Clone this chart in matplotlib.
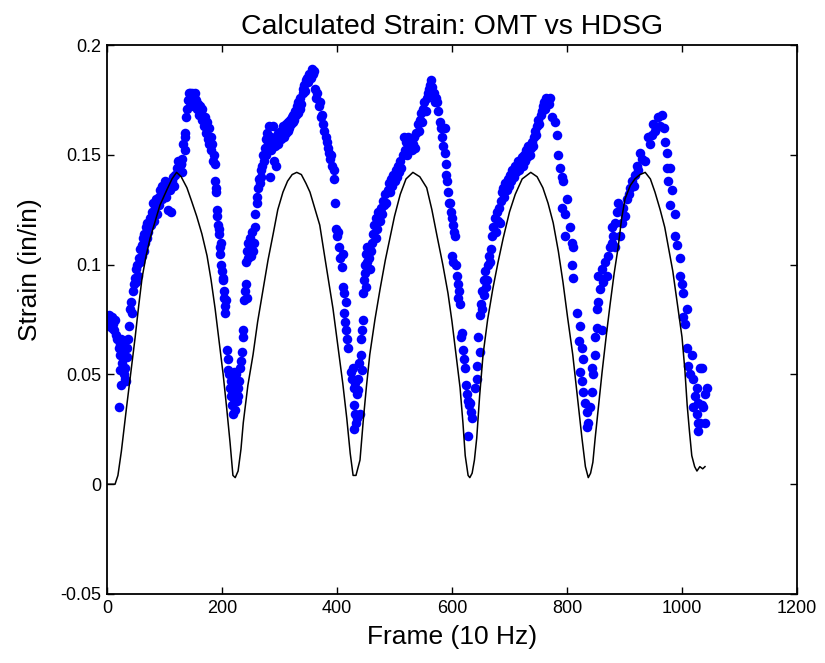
import matplotlib
matplotlib.use("Agg")
import matplotlib.pyplot as plt

# ---------------- DATA ----------------
title = "Calculated Strain: OMT vs HDSG"
xlabel = "Frame (10 Hz)"
ylabel = "Strain (in/in)"
xticks = [0, 200, 400, 600, 800, 1000, 1200]
xtick_labels = ["0", "200", "400", "600", "800", "1000", "1200"]
yticks = [-0.05, 0, 0.05, 0.1, 0.15, 0.2]
ytick_labels = ["-0.05", "0", "0.05", "0.1", "0.15", "0.2"]

# HDSG (black line)
hdsg_frame = [0, 8, 14, 19, 25, 34, 42, 49, 55, 61,
              68, 75, 83, 92, 104, 113, 121, 129, 139, 147,
              156, 165, 174, 181, 188, 195, 202, 208, 214, 219,
              223, 228, 233, 237, 245, 254, 262, 271, 280, 289,
              297, 306, 314, 322, 330, 338, 346, 353, 361, 370,
              379, 387, 393, 400, 410, 417, 423, 428, 433, 440,
              446, 451, 457, 466, 475, 484, 492, 500, 510, 520,
              532, 544, 556, 565, 574, 584, 593, 600, 607, 614,
              619, 623, 628, 631, 635, 639, 643, 648, 654, 662,
              671, 680, 689, 700, 710, 722, 737, 748, 758, 767,
              776, 785, 793, 801, 810, 818, 826, 832, 837, 841,
              845, 849, 855, 861, 868, 875, 882, 889, 895, 901,
              910, 918, 927, 936, 945, 953, 962, 970, 977, 984,
              992, 1000, 1005, 1009, 1013, 1017, 1022, 1026, 1031, 1036,
              1040]
hdsg_strain = [.000, .000, .000, .004, .015, .035, .052, .067, .081, .094,
               .104, .112, .119, .127, .134, .139, .142, .140, .135, .129,
               .122, .114, .104, .093, .080, .065, .050, .035, .019, .004,
               .003, .006, .016, .028, .045, .059, .074, .088, .102, .114,
               .125, .133, .138, .141, .142, .141, .137, .133, .126, .118,
               .103, .090, .080, .066, .046, .030, .014, .004, .004, .011,
               .030, .044, .059, .075, .089, .102, .112, .122, .132, .139,
               .142, .140, .135, .125, .113, .100, .087, .074, .059, .044,
               .028, .013, .004, .003, .005, .011, .021, .040, .059, .075,
               .089, .101, .112, .124, .132, .139, .142, .140, .135, .128,
               .119, .106, .092, .076, .059, .040, .021, .008, .003, .005,
               .010, .021, .036, .051, .067, .082, .096, .108, .121, .130,
               .136, .139, .141, .142, .139, .133, .125, .117, .107, .097,
               .082, .067, .052, .036, .024, .013, .008, .006, .008, .007,
               .008]

# OMT (blue dots), by segment
omt_frame_1 = [1, 3, 4, 6, 8, 9, 11, 13, 14, 16,
               18, 20, 22, 23, 25, 26, 27, 28, 29, 30,
               31, 32, 33, 34, 22, 24, 21, 35, 36]
omt_strain_1 = [.075, .072, .077, .074, .071, .076, .073, .070, .075, .068,
                .066, .062, .064, .059, .066, .055, .052, .061, .050, .065,
                .053, .048, .047, .062, .052, .045, .035, .058, .066]

omt_frame_2 = [38, 40, 42, 44, 45, 47, 48, 50, 51, 53,
               54, 55, 57, 58, 60, 61, 62, 64, 65, 66,
               68, 69, 70, 72, 74, 76, 78, 79, 80, 82,
               84, 85, 87, 88, 90, 91, 93, 95, 96, 98,
               100, 101, 103, 105, 106, 108, 110, 111, 113, 115,
               117, 119, 121, 123, 124, 126, 128, 130]
omt_strain_2 = [.072, .080, .083, .078, .088, .091, .094, .092, .098, .100,
                .095, .103, .101, .107, .104, .109, .112, .106, .114, .110,
                .117, .112, .119, .115, .121, .118, .124, .122, .128, .120,
                .126, .130, .123, .128, .131, .127, .134, .130, .136, .132,
                .135, .138, .131, .136, .125, .137, .134, .124, .138, .140,
                .136, .141, .144, .142, .147, .143, .146, .142]

omt_frame_3 = [133, 135, 136, 138, 139, 140, 142, 144, 145, 147,
               148, 150, 151, 153, 155, 156, 158, 160, 161, 163,
               165, 166, 168, 170, 172, 174, 175, 177, 178, 180,
               181, 183, 184, 136, 128, 131]
omt_strain_3 = [.155, .160, .152, .167, .171, .175, .178, .174, .178, .176,
                .178, .172, .177, .178, .175, .171, .173, .168, .172, .170,
                .166, .171, .163, .167, .160, .165, .157, .162, .155, .158,
                .152, .155, .147, .158, .146, .148]

omt_frame_4 = [186, 187, 188, 189, 190, 191, 192, 193, 194, 195,
               196, 197, 198, 199, 200, 201, 202, 203, 204, 205,
               206, 207]
omt_strain_4 = [.150, .146, .138, .133, .135, .125, .122, .118, .114, .116,
                .108, .105, .110, .100, .097, .093, .094, .088, .085, .081,
                .078, .084]

omt_frame_5 = [209, 210, 211, 212, 214, 215, 216, 217, 218, 219,
               220, 221, 222, 223, 224, 225, 226, 227, 228, 229,
               231, 233, 235, 236, 237]
omt_strain_5 = [.061, .057, .052, .050, .044, .047, .040, .043, .036, .032,
                .051, .039, .046, .034, .042, .050, .038, .044, .040, .047,
                .053, .056, .060, .067, .070]

omt_frame_6 = [238, 240, 241, 243, 242, 244, 245, 246, 248, 249,
               250, 251, 253, 254, 256, 257, 258, 260, 261, 263,
               264, 266, 267, 268, 270, 271, 273, 274, 276, 277,
               279, 280, 282, 283, 285, 286, 288, 289, 291, 292,
               294, 295, 297, 298]
omt_strain_6 = [.084, .088, .091, .085, .101, .106, .110, .103, .107, .112,
                .104, .109, .115, .106, .110, .117, .123, .128, .131, .135,
                .139, .137, .143, .140, .145, .150, .147, .153, .150, .157,
                .160, .155, .163, .140, .152, .158, .163, .157, .147, .154,
                .145, .158, .155, .160]

omt_frame_7 = [300, 302, 303, 305, 306, 308, 309, 311, 312, 314,
               315, 317, 318, 320, 321, 323, 324, 326, 327, 329,
               330, 332, 333, 335, 336, 338, 340, 341, 343, 344,
               346, 348, 350, 352, 354, 356, 358, 360]
omt_strain_7 = [.159, .161, .157, .160, .163, .158, .162, .160, .164, .161,
                .165, .162, .166, .164, .167, .165, .168, .166, .170, .168,
                .172, .169, .174, .171, .176, .173, .178, .180, .182, .179,
                .184, .185, .183, .187, .185, .189, .187, .188]

omt_frame_8 = [362, 364, 366, 368, 370, 372, 374, 376, 378, 380,
               382, 384, 386, 388, 390, 392, 394, 395, 397, 398,
               400, 402, 404, 406, 408, 410, 411, 413, 415, 412,
               414, 416, 418, 419, 424, 426, 428, 430, 432, 434,
               436, 429, 431, 433, 435, 430]
omt_strain_8 = [.180, .176, .178, .172, .174, .167, .168, .164, .161, .158,
                .156, .153, .151, .148, .150, .145, .143, .139, .128, .116,
                .113, .115, .108, .103, .099, .105, .090, .087, .083, .078,
                .074, .070, .066, .062, .051, .048, .053, .044, .046, .041,
                .043, .036, .032, .028, .030, .025]

omt_frame_9 = [437, 439, 440, 441, 442, 443, 444, 445, 446, 447,
               448, 449, 450, 451, 452, 453, 455, 457, 459, 461,
               463, 465, 467, 468, 470, 472, 474, 476, 478, 480,
               482, 484, 486, 488, 490, 492, 494, 496, 498, 500,
               502, 504, 506, 508, 510, 512, 514, 516, 518, 520,
               522, 524, 526, 528, 530, 532, 534, 536]
omt_strain_9 = [.048, .055, .032, .059, .066, .052, .070, .075, .087, .093,
                .100, .096, .105, .090, .101, .108, .103, .098, .106, .110,
                .114, .118, .112, .121, .116, .124, .120, .126, .123, .129,
                .127, .132, .128, .134, .137, .133, .139, .136, .141, .138,
                .143, .140, .145, .142, .147, .144, .150, .158, .152, .156,
                .150, .158, .154, .157, .152, .155, .158, .153]

omt_frame_10 = [538, 540, 542, 544, 546, 548, 550, 552, 554, 556,
                558, 560, 562, 564, 566]
omt_strain_10 = [.160, .164, .161, .166, .169, .165, .171, .174, .170, .176,
                 .178, .180, .182, .184, .181]

omt_frame_11 = [568, 570, 572, 574, 576, 579, 581, 583, 585, 587,
                588, 589, 590, 591, 593, 595, 597, 598, 600, 602,
                603, 605, 600, 602, 607, 609, 610, 611, 612, 614,
                615, 617, 619, 621, 623, 624, 626, 628, 630, 631,
                633, 635, 628, 640, 643, 643, 645, 649]
omt_strain_11 = [.178, .174, .176, .174, .170, .165, .162, .158, .154, .151,
                 .162, .146, .141, .138, .133, .128, .128, .124, .121, .118,
                 .115, .113, .104, .101, .100, .095, .091, .085, .088, .082,
                 .067, .069, .061, .057, .053, .045, .041, .038, .036, .037,
                 .033, .030, .022, .044, .048, .054, .067, .060]

omt_frame_12 = [649, 650, 652, 653, 655, 656, 658, 659, 661, 663,
                665, 666, 668, 670, 672, 674, 676, 678, 680, 682,
                683, 685, 687, 689, 691, 693, 695, 697, 699, 701,
                703, 705, 707, 709, 711, 713, 715, 717, 719, 721,
                723, 725, 727, 729, 731, 733, 735, 737, 739, 741]
omt_strain_12 = [.077, .082, .088, .080, .093, .086, .097, .090, .093, .100,
                 .104, .101, .107, .113, .117, .121, .115, .124, .120, .126,
                 .119, .129, .133, .135, .131, .137, .134, .139, .136, .141,
                 .138, .143, .140, .145, .142, .144, .147, .143, .146, .149,
                 .145, .150, .147, .152, .149, .154, .150, .153, .156, .154]

omt_frame_13 = [742, 744, 746, 748, 750, 752, 754, 756, 758, 760,
                762, 764, 766, 768]
omt_strain_13 = [.158, .161, .159, .163, .166, .164, .168, .170, .172, .174,
                 .171, .176, .175, .173]

omt_frame_14 = [770, 774, 779, 782, 785, 788, 791, 793, 800, 791,
                797, 805, 797, 809, 811, 809, 811, 817, 823, 820,
                826, 828, 823, 826, 828, 831, 835, 837, 835, 843,
                840, 846, 843, 849, 849, 852, 861]
omt_strain_14 = [.176, .167, .165, .159, .150, .144, .140, .138, .130, .126,
                 .123, .117, .113, .110, .108, .100, .094, .078, .072, .065,
                 .062, .057, .051, .047, .042, .037, .033, .028, .026, .042,
                 .035, .050, .053, .059, .067, .071, .070]

omt_frame_15 = [852, 854, 857, 863, 854, 861, 870, 866, 871, 875,
                878, 880, 878, 883, 887, 889, 883, 892, 896, 897,
                904, 910, 913, 918, 922, 927, 936, 941, 948, 950,
                958, 965, 900, 907, 916, 924, 931, 945, 953, 961]
omt_strain_15 = [.080, .083, .089, .092, .095, .098, .095, .101, .104, .108,
                 .110, .113, .117, .119, .124, .128, .108, .113, .119, .126,
                 .130, .135, .138, .141, .145, .151, .147, .158, .159, .164,
                 .167, .168, .122, .132, .136, .143, .148, .155, .161, .163]

omt_frame_16 = [968, 970, 974, 974, 979, 976, 983, 979, 988, 988,
                991, 997, 997, 1000, 1002, 1009, 1002, 1005, 1009, 1017,
                1010, 1031, 1019, 1026, 1028, 1019, 1026, 1028, 1035, 1035,
                1043, 1040, 1037, 1040, 1028, 1031, 1014, 1022]
omt_strain_16 = [.162, .156, .151, .144, .144, .138, .134, .127, .123, .113,
                 .109, .103, .095, .091, .087, .080, .076, .073, .062, .059,
                 .054, .053, .048, .044, .037, .035, .032, .028, .036, .053,
                 .044, .041, .035, .028, .024, .028, .050, .040]

omt_frames = (omt_frame_1 + omt_frame_2 + omt_frame_3 + omt_frame_4 + omt_frame_5 +
              omt_frame_6 + omt_frame_7 + omt_frame_8 + omt_frame_9 + omt_frame_10 +
              omt_frame_11 + omt_frame_12 + omt_frame_13 + omt_frame_14 + omt_frame_15 +
              omt_frame_16)
omt_strains = (omt_strain_1 + omt_strain_2 + omt_strain_3 + omt_strain_4 + omt_strain_5 +
               omt_strain_6 + omt_strain_7 + omt_strain_8 + omt_strain_9 + omt_strain_10 +
               omt_strain_11 + omt_strain_12 + omt_strain_13 + omt_strain_14 + omt_strain_15 +
               omt_strain_16)
n = min(len(omt_frames), len(omt_strains))

# ---------------- PLOT ----------------
plt.rcParams['font.family'] = ['Liberation Sans', 'DejaVu Sans']

fig = plt.figure(figsize=(8.25, 6.63), dpi=100)
ax = fig.add_axes([107 / 825, 69 / 663, 690 / 825, 549 / 663])

ax.plot(omt_frames[:n], omt_strains[:n], 'o', color=(0, 0, 1), markersize=6.9,
        markeredgewidth=0, zorder=2)
ax.plot(hdsg_frame, hdsg_strain, '-', color='black', linewidth=1.1, zorder=3)

ax.set_xlim(0, 1200)
ax.set_ylim(-0.05, 0.2)
ax.set_xticks(xticks)
ax.set_xticklabels(xtick_labels)
ax.set_yticks(yticks)
ax.set_yticklabels(ytick_labels)
ax.tick_params(direction='in', top=True, right=True, length=5, width=1,
               labelsize=13, pad=4, colors='black')
for s in ax.spines.values():
    s.set_linewidth(1.3)

ax.set_title(title, fontsize=20.5, pad=8)
ax.set_xlabel(xlabel, fontsize=19, labelpad=6)
ax.set_ylabel(ylabel, fontsize=19)
ax.yaxis.set_label_coords(-0.094, 0.59)

fig.savefig("out.png", dpi=100)
